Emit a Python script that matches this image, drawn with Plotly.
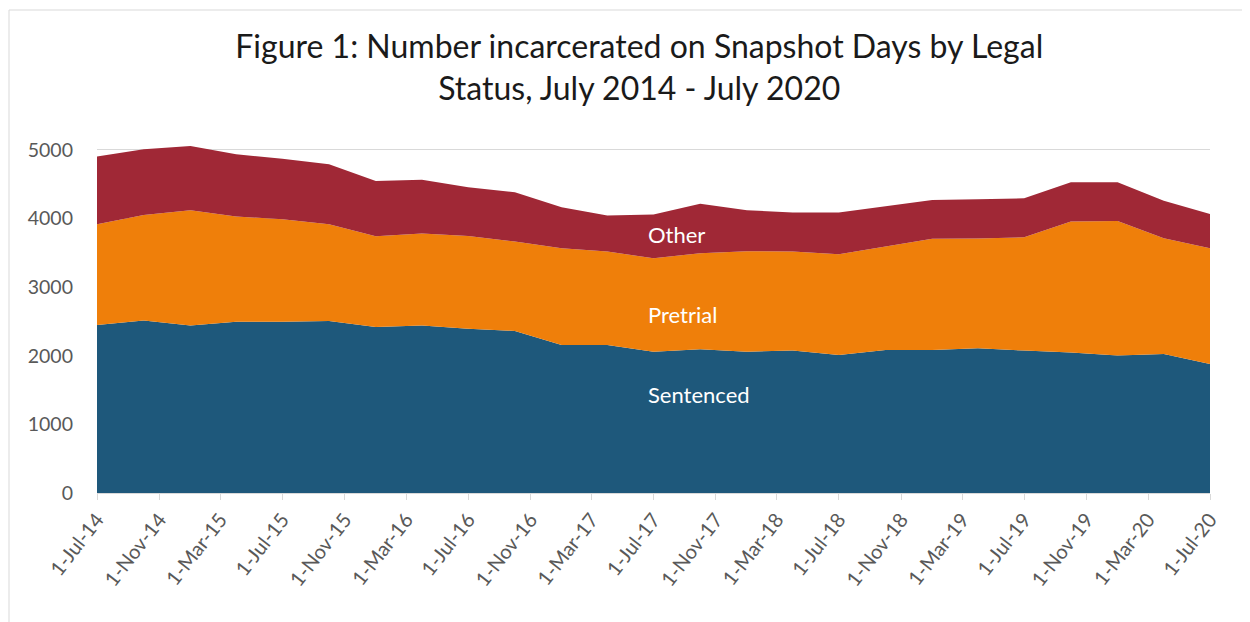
import plotly.graph_objects as go
import pandas as pd

dates = pd.date_range("2014-07-01", "2020-07-01", freq="QS-JAN").strftime("%Y-%m-%d").tolist()
sentenced = [2449, 2512, 2439, 2497, 2497, 2507, 2420, 2439, 2395, 2362, 2157, 2157, 2060,
             2094, 2060, 2075, 2012, 2085, 2085, 2109, 2075, 2046, 2002, 2026, 1880]
pretrial = [1468, 1540, 1681, 1531, 1493, 1410, 1322, 1341, 1351, 1302, 1410, 1361, 1361,
            1400, 1463, 1443, 1467, 1506, 1618, 1599, 1652, 1909, 1963, 1686, 1687]
other = [985, 958, 938, 909, 879, 874, 806, 783, 710, 719, 597, 524, 636,
         719, 597, 568, 607, 583, 568, 573, 568, 574, 564, 545, 500]

series = [("Sentenced", sentenced, "#1E587B"),
          ("Pretrial", pretrial, "#EF7F0A"),
          ("Other", other, "#A02836")]

tick_dates = pd.date_range("2014-07-01", "2020-07-01", freq="4MS").strftime("%Y-%m-%d").tolist()
y_ticks = [0, 1000, 2000, 3000, 4000, 5000]

fig = go.Figure()
for name, vals, col in series:
    fig.add_trace(go.Scatter(x=dates, y=vals, name=name, stackgroup="one",
                             mode="lines", line=dict(width=0, color=col),
                             fillcolor=col))

FONT = "Lato, Carlito, Calibri, sans-serif"
fig.update_layout(
    width=1250, height=622,
    margin=dict(l=89, r=48, t=135, b=137),
    paper_bgcolor="white", plot_bgcolor="white",
    showlegend=False,
    font=dict(family=FONT, color="#595959"),
    title=dict(text="Figure 1: Number incarcerated on Snapshot Days by Legal<br>Status, July 2014 - July 2020",
               x=0.505, xanchor="center", y=0.919, yanchor="top",
               font=dict(size=32, color="#1a1a1a", family=FONT)),
    xaxis=dict(type="date", range=["2014-07-01", "2020-07-01"],
               tickvals=tick_dates, tickformat="%-d-%b-%y", tickangle=-52,
               tickfont=dict(size=20, color="#595959"),
               showgrid=False, showline=True, linecolor="#d9d9d9", linewidth=1,
               ticks="outside", ticklen=6, tickcolor="#d9d9d9"),
    yaxis=dict(range=[0, 5100], tickvals=y_ticks, showgrid=True, gridcolor="#d9d9d9",
               gridwidth=1, zeroline=False, showline=False,
               tickfont=dict(size=19.5, color="#595959"), ticks="", ticklabelstandoff=23),
)

for txt, xd, yv in [("Other", "2017-07-01", 3770), ("Pretrial", "2017-07-01", 2600), ("Sentenced", "2017-07-01", 1440)]:
    fig.add_annotation(x=xd, y=yv, text=txt, showarrow=False, xanchor="left", xshift=-8,
                       font=dict(size=22, color="white", family=FONT))

fig.add_shape(type="rect", xref="paper", yref="paper",
              x0=(9 - 97) / 1113, x1=(1262 - 97) / 1113,
              y0=(493 - 640) / 350, y1=(493 - 10) / 350,
              line=dict(color="#d9d9d9", width=1), layer="below")

fig.write_html("out.html")
